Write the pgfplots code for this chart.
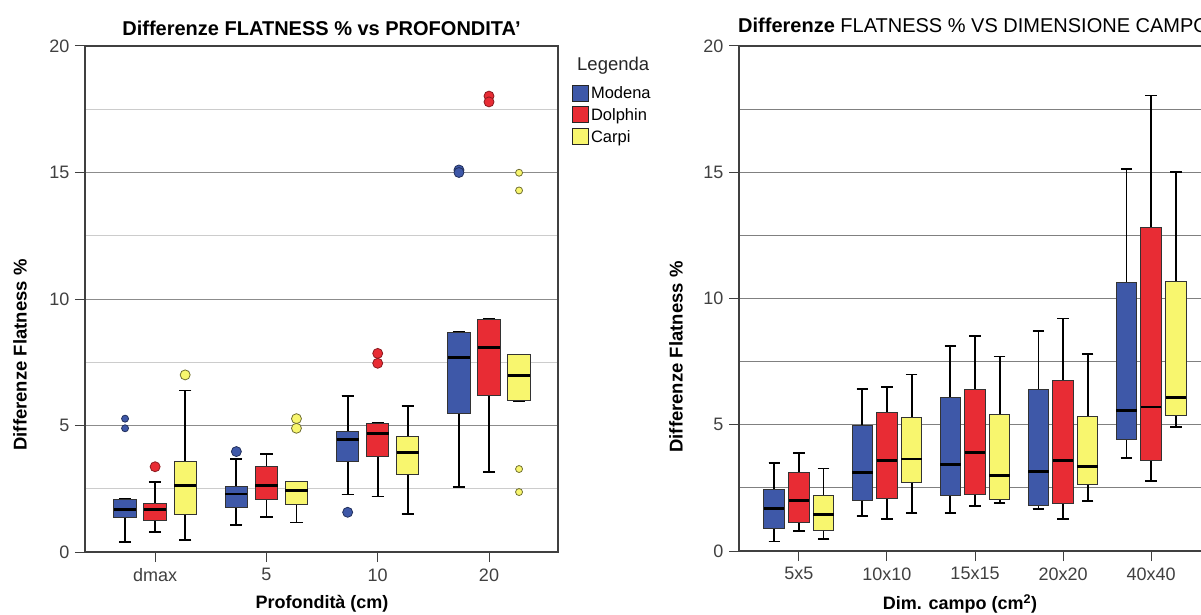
\documentclass[border=0pt]{standalone}
\usepackage{fontspec}
\setmainfont{Liberation Sans}
\usepackage{pgfplots}
\pgfplotsset{compat=1.18}
\usepgfplotslibrary{statistics}
\definecolor{cmod}{RGB}{62,88,168}
\definecolor{cdol}{RGB}{232,44,52}
\definecolor{ccar}{RGB}{248,246,110}
\pgfplotsset{
  bM/.style={fill=cmod, draw=black!80, mark options={fill=cmod, draw=cmod!55!black, line width=0.8pt}},
  bD/.style={fill=cdol, draw=black!80, mark options={fill=cdol, draw=cdol!60!black, line width=0.8pt}},
  bC/.style={fill=ccar, draw=black!80, mark options={fill=ccar, draw=ccar!45!black, line width=0.8pt}},
  common/.style={
    scale only axis, ymin=0, ymax=20,
    ytick={0,5,10,15,20}, yticklabels={0,5,10,15,20},
    minor ytick={2.5,7.5,12.5,17.5},
    ymajorgrids, yminorgrids,
    tick align=outside, major tick length=10pt, minor tick length=0pt,
    tick pos=left,
    axis line style={black!75, line width=1.3pt},
    major tick style={black!75, line width=1pt},
    ticklabel style={font=\fontsize{18}{20}\selectfont, text=black!75},
    yticklabel style={xshift=-2pt},
    xticklabel style={yshift=-3pt},
    boxplot/draw direction=y,
    boxplot/every box/.style={draw=black!80, line width=1pt},
    boxplot/every whisker/.style={black, line width=1.8pt},
    boxplot/every median/.style={black, line width=2.8pt},
    clip=false,
  },
}
\newcommand\BP[7]{\addplot[#1, forget plot, mark=*, boxplot prepared={draw position=#2, lower whisker=#3, lower quartile=#4, median=#5, upper quartile=#6, upper whisker=#7}]}
\begin{document}
\begin{tikzpicture}
\useasboundingbox (0pt,0pt) rectangle (1201pt,614pt);
\clip (0pt,0pt) rectangle (1201pt,614pt);
% ---------------- left chart ----------------
\begin{axis}[common,
  at={(85pt,62pt)}, anchor=south west, width=473pt, height=506pt,
  xmin=-0.63, xmax=3.62,
  xtick={0,1,2,3}, xticklabels={dmax,5,10,20},
  major grid style={black!45, line width=1pt},
  minor grid style={black!20, line width=1pt},
  boxplot/box extend=0.2, boxplot/whisker extend=0.11,
  legend style={draw=none, fill=none, at={(1,1)}, anchor=north west, xshift=12pt, yshift=-36pt,
    font=\fontsize{16.5}{18}\selectfont, row sep=4.5pt, inner sep=2pt,
    legend cell align=left},
  legend image code/.code={\draw[#1, draw=black!85, line width=0.8pt] (0pt,-8pt) rectangle (16pt,8pt);},
]
% dmax
\BP{bM,mark size=3.5pt}{-0.27}{0.38}{1.37}{1.69}{2.09}{2.09} table[row sep=\\,y index=0] {5.27\\ 4.89\\};
\BP{bD,mark size=5pt}{0}{0.79}{1.26}{1.68}{1.90}{2.78} table[row sep=\\,y index=0] {3.37\\};
\BP{bC,mark size=5pt}{0.27}{0.47}{1.48}{2.64}{3.57}{6.38} table[row sep=\\,y index=0] {7.0\\};
% 5
\BP{bM,mark size=5pt}{0.73}{1.07}{1.77}{2.29}{2.58}{3.69} table[row sep=\\,y index=0] {3.97\\};
\BP{bD,mark size=5pt}{1}{1.37}{2.07}{2.62}{3.37}{3.87} coordinates {};
\BP{bC,mark size=5pt}{1.27}{1.17}{1.86}{2.42}{2.78}{2.78} table[row sep=\\,y index=0] {5.27\\ 4.89\\};
% 10
\BP{bM,mark size=5pt}{1.73}{2.27}{3.57}{4.45}{4.78}{6.18} table[row sep=\\,y index=0] {1.57\\};
\BP{bD,mark size=5pt}{2}{2.19}{3.77}{4.69}{5.09}{5.09} table[row sep=\\,y index=0] {7.85\\ 7.46\\};
\BP{bC,mark size=5pt}{2.27}{1.49}{3.07}{3.94}{4.58}{5.77} coordinates {};
% 20
\BP{bM,mark size=5pt}{2.73}{2.58}{5.48}{7.68}{8.68}{8.68} table[row sep=\\,y index=0] {15.1\\ 15.0\\};
\BP{bD,mark size=5pt}{3}{3.16}{6.18}{8.09}{9.2}{9.2} table[row sep=\\,y index=0] {18.02\\ 17.79\\};
\BP{bC,mark size=3.5pt}{3.27}{5.98}{5.98}{6.98}{7.79}{7.79} table[row sep=\\,y index=0] {3.28\\ 2.37\\ 14.99\\ 14.29\\};
\addlegendimage{fill=cmod}\addlegendentry{Modena}
\addlegendimage{fill=cdol}\addlegendentry{Dolphin}
\addlegendimage{fill=ccar}\addlegendentry{Carpi}
\end{axis}
% ---------------- right chart ----------------
\begin{axis}[common,
  at={(739pt,63pt)}, anchor=south west, width=472pt, height=505pt,
  xmin=-0.68, xmax=4.68,
  xtick={0,1,2,3,4}, xticklabels={5x5,10x10,15x15,20x20,40x40},
  major grid style={black!50, line width=1pt},
  minor grid style={black!50, line width=1pt},
  boxplot/box extend=0.233, boxplot/whisker extend=0.13,
]
% 5x5
\BP{bM}{-0.28}{0.38}{0.88}{1.67}{2.44}{3.49} coordinates {};
\BP{bD}{0}{0.78}{1.14}{1.99}{3.09}{3.89} coordinates {};
\BP{bC}{0.28}{0.47}{0.82}{1.44}{2.18}{3.27} coordinates {};
% 10x10
\BP{bM}{0.72}{1.38}{1.99}{3.10}{4.99}{6.41} coordinates {};
\BP{bD}{1}{1.28}{2.07}{3.59}{5.49}{6.49} coordinates {};
\BP{bC}{1.28}{1.49}{2.73}{3.64}{5.29}{6.99} coordinates {};
% 15x15
\BP{bM}{1.72}{1.49}{2.20}{3.44}{6.08}{8.11} coordinates {};
\BP{bD}{2}{1.79}{2.24}{3.89}{6.40}{8.50} coordinates {};
\BP{bC}{2.28}{1.89}{2.05}{2.98}{5.39}{7.70} coordinates {};
% 20x20
\BP{bM}{2.72}{1.67}{1.79}{3.14}{6.40}{8.71} coordinates {};
\BP{bD}{3}{1.28}{1.89}{3.60}{6.77}{9.21} coordinates {};
\BP{bC}{3.28}{1.98}{2.62}{3.34}{5.34}{7.80} coordinates {};
% 40x40
\BP{bM}{3.72}{3.69}{4.43}{5.55}{10.62}{15.12} coordinates {};
\BP{bD}{4}{2.78}{3.59}{5.70}{12.81}{18.04} coordinates {};
\BP{bC}{4.28}{4.90}{5.37}{6.08}{10.66}{15.01} coordinates {};
\end{axis}
% ---------------- texts ----------------
\node[font=\fontsize{20}{22}\bfseries\selectfont, anchor=base] at (321.5pt,578pt) {Differenze FLATNESS \% vs PROFONDITA'};
\node[font=\fontsize{20}{22}\selectfont, anchor=base west, inner sep=0pt] at (738pt,581pt) {\textbf{Differenze} FLATNESS \% VS DIMENSIONE CAMPO};
\node[font=\fontsize{18.5}{20}\selectfont, anchor=west, inner sep=0pt, text=black!85] at (577pt,548pt) {Legenda};
\node[font=\fontsize{18.5}{20}\bfseries\selectfont, rotate=90, anchor=center] at (20pt,259pt) {Differenze Flatness \%};
\node[font=\fontsize{18.5}{20}\bfseries\selectfont, rotate=90, anchor=center] at (676pt,257pt) {Differenze Flatness \%};
\node[font=\fontsize{18}{20}\bfseries\selectfont, anchor=center] at (322pt,10pt) {Profondità (cm)};
\node[font=\fontsize{18}{20}\bfseries\selectfont, anchor=center] at (960pt,10pt) {Dim. campo (cm\textsuperscript{2})};
\end{tikzpicture}
\end{document}
